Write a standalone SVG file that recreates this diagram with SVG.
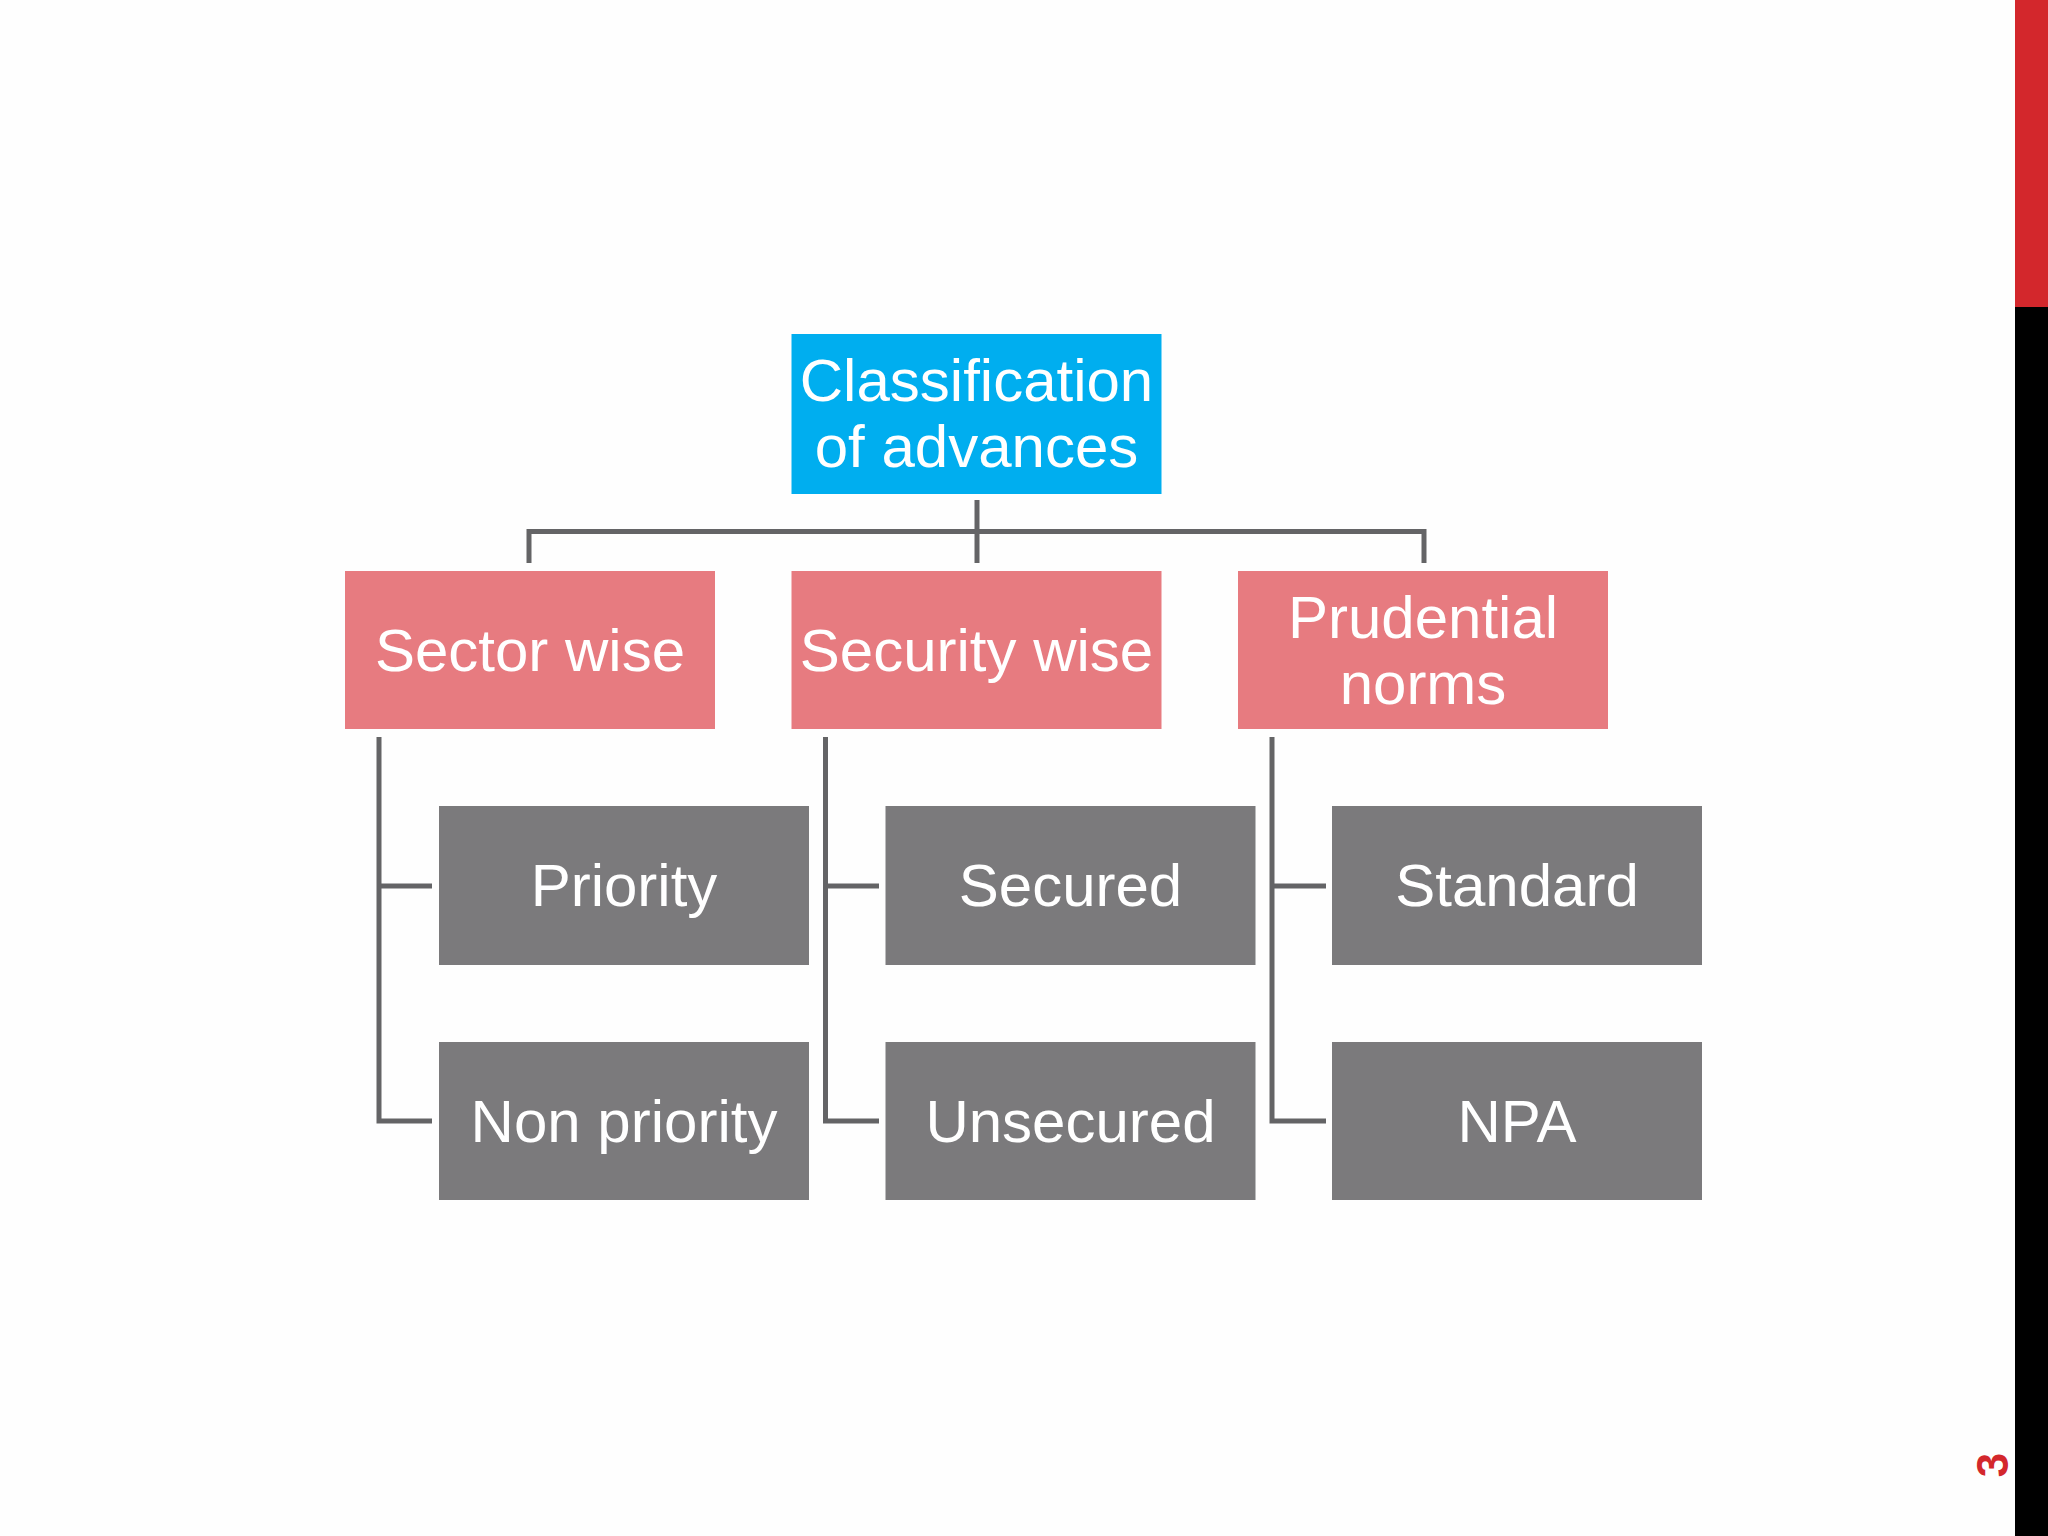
<svg xmlns="http://www.w3.org/2000/svg" width="2048" height="1536" viewBox="0 0 2048 1536">
<style>
.t{font-family:"Liberation Sans",Arial,sans-serif;font-size:60px;fill:#fff;text-anchor:middle;dominant-baseline:central}
.p{fill:#E77B80}.g{fill:#7B7A7C}
.c{stroke:#646466;stroke-width:5;fill:none}
</style>
<rect width="2048" height="1536" fill="#fefefe"/>
<rect x="2015" y="0" width="33" height="307" fill="#D3272C"/>
<rect x="2015" y="307" width="33" height="1229" fill="#000"/>
<text transform="translate(1992,1465) rotate(-90)" style="font-family:'Liberation Sans',Arial,sans-serif;font-size:44px;font-weight:bold;fill:#D3272C;text-anchor:middle;dominant-baseline:central">3</text>
<g id="connectors" class="c">
<path d="M977 500V563M529 563V531.5H1424V563"/>
<path d="M379 737V1121H432M379 886H432"/>
<path d="M825.5 737V1121H879M825.5 886H879"/>
<path d="M1272 737V1121H1326M1272 886H1326"/>
</g>
<g id="root"><rect x="791.5" y="334" width="370" height="160" fill="#00AEEF"/><text class="t" x="976.5" y="380">Classification</text><text class="t" x="976.5" y="446">of advances</text></g>
<g id="sector"><rect class="p" x="345" y="571" width="370" height="158"/><text class="t" x="530" y="650">Sector wise</text></g>
<g id="security"><rect class="p" x="791.5" y="571" width="370" height="158"/><text class="t" x="976.5" y="650">Security wise</text></g>
<g id="prudential"><rect class="p" x="1238" y="571" width="370" height="158"/><text class="t" x="1423" y="617">Prudential</text><text class="t" x="1423" y="683">norms</text></g>
<g id="priority"><rect class="g" x="439" y="806" width="370" height="159"/><text class="t" x="624" y="885">Priority</text></g>
<g id="nonpriority"><rect class="g" x="439" y="1042" width="370" height="158"/><text class="t" x="624" y="1121">Non priority</text></g>
<g id="secured"><rect class="g" x="885.5" y="806" width="370" height="159"/><text class="t" x="1070.5" y="885">Secured</text></g>
<g id="unsecured"><rect class="g" x="885.5" y="1042" width="370" height="158"/><text class="t" x="1070.5" y="1121">Unsecured</text></g>
<g id="standard"><rect class="g" x="1332" y="806" width="370" height="159"/><text class="t" x="1517" y="885">Standard</text></g>
<g id="npa"><rect class="g" x="1332" y="1042" width="370" height="158"/><text class="t" x="1517" y="1121">NPA</text></g>
</svg>
